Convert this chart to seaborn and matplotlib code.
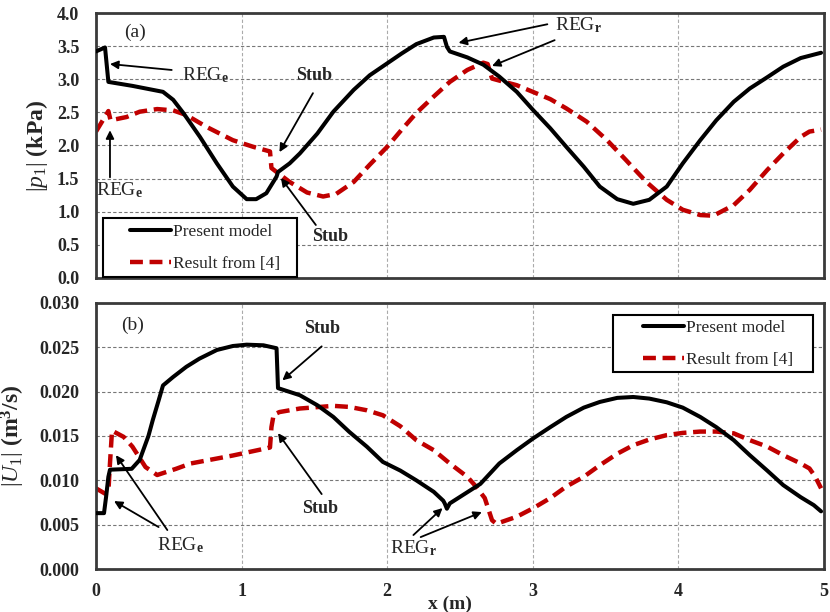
import numpy as np
import pandas as pd
import matplotlib
matplotlib.use("Agg")
import matplotlib.pyplot as plt
import seaborn as sns
from matplotlib.ticker import MultipleLocator, FormatStrFormatter
from matplotlib.patches import Rectangle

# ---------------- data ----------------
p_model_x = [0, 0.062, 0.085, 0.25, 0.46, 0.53, 0.60, 0.714, 0.83, 0.94, 1.035, 1.10, 1.17,
             1.24, 1.25, 1.33, 1.40, 1.52, 1.63, 1.77, 1.88, 2.0, 2.10, 2.20, 2.32, 2.39, 2.41,
             2.43, 2.55, 2.66, 2.77, 2.89, 3.0, 3.12, 3.23, 3.35, 3.46, 3.58, 3.69, 3.80, 3.92,
             4.03, 4.15, 4.26, 4.38, 4.49, 4.61, 4.72, 4.84, 4.98]
p_model_y = [3.42, 3.48, 2.96, 2.90, 2.81, 2.69, 2.49, 2.13, 1.73, 1.38, 1.19, 1.19, 1.28,
             1.53, 1.60, 1.73, 1.88, 2.18, 2.51, 2.84, 3.06, 3.24, 3.39, 3.53, 3.63, 3.64, 3.49,
             3.42, 3.33, 3.22, 3.04, 2.81, 2.54, 2.26, 1.98, 1.68, 1.38, 1.19, 1.12, 1.18, 1.38,
             1.73, 2.08, 2.38, 2.66, 2.86, 3.03, 3.19, 3.32, 3.40]

p_ref_x = [0, 0.085, 0.10, 0.21, 0.30, 0.42, 0.53, 0.62, 0.76, 0.94, 1.08, 1.195, 1.205, 1.24,
           1.33, 1.45, 1.56, 1.65, 1.77, 1.88, 2.0, 2.10, 2.20, 2.32, 2.43, 2.55, 2.66, 2.69,
           2.72, 2.77, 2.89, 3.0, 3.12, 3.23, 3.37, 3.51, 3.64, 3.78, 3.92, 4.03, 4.15, 4.24,
           4.38, 4.49, 4.61, 4.72, 4.84, 4.90, 4.98]
p_ref_y = [2.21, 2.52, 2.38, 2.43, 2.51, 2.55, 2.53, 2.46, 2.28, 2.08, 1.98, 1.91, 1.66, 1.60,
           1.45, 1.29, 1.23, 1.27, 1.45, 1.71, 1.98, 2.24, 2.49, 2.74, 2.96, 3.14, 3.25, 3.23,
           3.01, 2.98, 2.91, 2.81, 2.70, 2.56, 2.36, 2.08, 1.78, 1.45, 1.18, 1.03, 0.95, 0.94,
           1.10, 1.33, 1.63, 1.88, 2.13, 2.21, 2.24]

u_model_x = [0, 0.055, 0.069, 0.085, 0.096, 0.245, 0.30, 0.36, 0.39, 0.43, 0.46, 0.53, 0.62,
             0.71, 0.83, 0.94, 1.035, 1.15, 1.24, 1.25, 1.40, 1.52, 1.63, 1.74, 1.86, 1.97,
             2.09, 2.20, 2.32, 2.385, 2.395, 2.41, 2.43, 2.64, 2.77, 2.89, 3.0, 3.12, 3.23,
             3.35, 3.46, 3.58, 3.69, 3.80, 3.92, 4.03, 4.15, 4.26, 4.38, 4.49, 4.61, 4.72,
             4.84, 4.93, 4.98]
u_model_y = [0.0063, 0.0063, 0.0081, 0.0104, 0.0112, 0.0113, 0.0123, 0.0150, 0.0168, 0.0190,
             0.0207, 0.02166, 0.0228, 0.02372, 0.0247, 0.02515, 0.0253, 0.02523, 0.0249,
             0.0204, 0.0196, 0.01847, 0.01715, 0.01546, 0.0138, 0.01208, 0.0111, 0.0100,
             0.0087, 0.0077, 0.0074, 0.0068, 0.0074, 0.0096, 0.0119, 0.0134, 0.0147, 0.0160,
             0.01715, 0.0182, 0.01884, 0.0193, 0.0194, 0.01922, 0.0188, 0.0182, 0.01715,
             0.0160, 0.01453, 0.01284, 0.0111, 0.00946, 0.0081, 0.0072, 0.0065]

u_ref_x = [0, 0.062, 0.085, 0.096, 0.11, 0.19, 0.25, 0.34, 0.42, 0.55, 0.65, 0.94, 1.195,
           1.205, 1.22, 1.26, 1.40, 1.63, 1.74, 1.86, 1.97, 2.09, 2.20, 2.32, 2.43, 2.55, 2.61,
           2.67, 2.69, 2.72, 2.75, 2.89, 3.0, 3.12, 3.23, 3.35, 3.46, 3.58, 3.69, 3.80, 3.92,
           4.03, 4.15, 4.26, 4.38, 4.49, 4.61, 4.72, 4.84, 4.90, 4.94, 4.98]
u_ref_y = [0.0091, 0.0085, 0.0087, 0.0119, 0.0156, 0.0149, 0.0138, 0.0115, 0.0106, 0.0113,
           0.0119, 0.0128, 0.0137, 0.0160, 0.0174, 0.0177, 0.0181, 0.0184, 0.01828, 0.0179,
           0.01734, 0.0161, 0.01453, 0.0134, 0.0119, 0.0104, 0.0093, 0.0080, 0.0070, 0.0055,
           0.0051, 0.0059, 0.00683, 0.0080, 0.0093, 0.0104, 0.0117, 0.0130, 0.01396, 0.0146,
           0.0151, 0.01535, 0.0155, 0.0155, 0.0153, 0.01453, 0.0138, 0.01284, 0.0119, 0.01134,
           0.0104, 0.0091]

series_names = ["Present model", "Result from [4]"]
x_ticks = [0, 1, 2, 3, 4, 5]

# ---------------- style ----------------
sns.set_style("white")
plt.rcParams["font.family"] = ["Liberation Serif", "DejaVu Serif"]
plt.rcParams["mathtext.fontset"] = "custom"
plt.rcParams["mathtext.rm"] = "Liberation Serif"
plt.rcParams["mathtext.it"] = "Liberation Serif:italic"
plt.rcParams["mathtext.bf"] = "Liberation Serif:bold"

BLACK = "#000000"
RED = "#C00000"
SPINE = "#3a3a3a"

W, H = 830, 612
fig = plt.figure(figsize=(8.3, 6.12), dpi=100)
ax1 = fig.add_axes([96 / W, 1 - 278 / H, 728 / W, 265 / H])
ax2 = fig.add_axes([96 / W, 1 - 569 / H, 728 / W, 266 / H])


def draw(ax, mx, my, rx, ry):
    dfm = pd.DataFrame({"x": mx, "y": my})
    dfr = pd.DataFrame({"x": rx, "y": ry})
    sns.lineplot(data=dfm, x="x", y="y", ax=ax, color=BLACK, lw=2.9, sort=False,
                 estimator=None, label=series_names[0], zorder=3)
    sns.lineplot(data=dfr, x="x", y="y", ax=ax, color=RED, lw=3.2, sort=False,
                 estimator=None, label=series_names[1], zorder=2)
    ln = ax.get_lines()[-1]
    ln.set_dashes((2.9, 1.5))
    for l in ax.get_lines():
        l.set_solid_joinstyle("round")
        l.set_dash_joinstyle("round")
        l.set_solid_capstyle("round")
    ax.set_xlim(0, 5)
    ax.xaxis.set_major_locator(MultipleLocator(1))
    ax.xaxis.set_minor_locator(MultipleLocator(0.2))
    ax.grid(True, which="major", axis="y", color="#777777", ls=(0, (3, 2)), lw=0.8)
    ax.grid(True, which="major", axis="x", color="#aaaaaa", ls=(0, (3, 2)), lw=0.8)
    for s in ax.spines.values():
        s.set_color(SPINE)
        s.set_linewidth(2)
    ax.tick_params(axis="both", which="major", direction="out", length=4, width=0.8,
                   color="#888888", pad=8)
    ax.tick_params(axis="x", which="minor", direction="out", length=4, width=0.8, color="#888888")
    ax.set_xlabel("")
    ax.set_ylabel("")


draw(ax1, p_model_x, p_model_y, p_ref_x, p_ref_y)
draw(ax2, u_model_x, u_model_y, u_ref_x, u_ref_y)

ax1.set_ylim(0, 4)
ax1.yaxis.set_major_locator(MultipleLocator(0.5))
ax1.yaxis.set_major_formatter(FormatStrFormatter("%.1f"))
ax1.tick_params(axis="x", labelbottom=False)

ax2.set_ylim(0, 0.03)
ax2.yaxis.set_major_locator(MultipleLocator(0.005))
ax2.yaxis.set_major_formatter(FormatStrFormatter("%.3f"))
ax2.set_xticks(x_ticks)
ax2.set_xticklabels([str(t) for t in x_ticks])
ax2.tick_params(axis="x", which="major", pad=6)

for ax in (ax1, ax2):
    for lab in ax.get_xticklabels() + ax.get_yticklabels():
        lab.set_fontweight("bold")
        lab.set_fontsize(13)

ax1.set_ylabel(r"$|\mathit{p}_{\mathit{1}}|$ $\mathbf{(kPa)}$", fontsize=17)
ax2.set_ylabel(r"$|\mathit{U}_{\mathit{1}}|$ $\mathbf{(m^3/s)}$", fontsize=17)
ax2.set_xlabel("x (m)", fontsize=14, fontweight="bold")
ax1.yaxis.set_label_coords(-0.063, 0.5)
ax2.yaxis.set_label_coords(-0.095, 0.5)
ax2.xaxis.set_label_coords(0.486, -0.1)


def legend_box(ax, x0, y0, x1, y1, anchor_px):
    # frame placed in figure pixel coordinates of the reference layout
    rect = Rectangle((x0 / W, 1 - y1 / H), (x1 - x0) / W, (y1 - y0) / H,
                     transform=fig.transFigure, fill=True, facecolor="white",
                     edgecolor="black", lw=1.5, zorder=5, clip_on=False)
    ax.add_patch(rect)
    lg = ax.legend(loc="center left",
                   bbox_to_anchor=(anchor_px[0] / W, 1 - anchor_px[1] / H),
                   bbox_transform=fig.transFigure, frameon=False, handlelength=2.35,
                   handletextpad=0.1, labelspacing=0.95, borderpad=0, borderaxespad=0,
                   fontsize=12.5)
    lg.set_zorder(6)
    return lg


legend_box(ax1, 103, 218, 297, 277, (130, 248))
legend_box(ax2, 613, 315, 813, 372, (643, 344))

arrow = dict(arrowstyle="-|>", color="black", lw=1.3, mutation_scale=12, shrinkA=0, shrinkB=0)
REGe = r"REG$_{\mathbf{e}}$"
REGr = r"REG$_{\mathbf{r}}$"
tfs = 14
sfs = 13

# top panel annotations
ax1.text(0.27, 3.71, "(a)", fontsize=14, ha="center", va="center")
ax1.text(0.59, 3.06, REGe, fontsize=tfs, ha="left", va="center")
ax1.annotate("", xy=(0.096, 3.23), xytext=(0.52, 3.14), arrowprops=arrow)
ax1.text(1.50, 3.06, "Stub", fontsize=sfs, fontweight="bold", ha="center", va="center")
ax1.annotate("", xy=(1.26, 1.90), xytext=(1.49, 2.79), arrowprops=arrow)
ax1.text(0.16, 1.33, REGe, fontsize=tfs, ha="center", va="center")
ax1.annotate("", xy=(0.096, 2.23), xytext=(0.096, 1.52), arrowprops=arrow)
ax1.text(1.61, 0.62, "Stub", fontsize=sfs, fontweight="bold", ha="center", va="center")
ax1.annotate("", xy=(1.27, 1.51), xytext=(1.51, 0.80), arrowprops=arrow)
ax1.text(3.15, 3.82, REGr, fontsize=tfs, ha="left", va="center")
ax1.annotate("", xy=(2.49, 3.55), xytext=(3.10, 3.83), arrowprops=arrow)
ax1.annotate("", xy=(2.72, 3.20), xytext=(3.15, 3.59), arrowprops=arrow)

# bottom panel annotations
ax2.text(0.25, 0.02748, "(b)", fontsize=14, ha="center", va="center")
ax2.text(1.55, 0.02714, "Stub", fontsize=sfs, fontweight="bold", ha="center", va="center")
ax2.annotate("", xy=(1.28, 0.02128), xytext=(1.55, 0.02511), arrowprops=arrow)
ax2.text(1.54, 0.00687, "Stub", fontsize=sfs, fontweight="bold", ha="center", va="center")
ax2.annotate("", xy=(1.25, 0.01532), xytext=(1.55, 0.00845), arrowprops=arrow)
ax2.text(0.58, 0.0027, REGe, fontsize=tfs, ha="center", va="center")
ax2.annotate("", xy=(0.124, 0.00766), xytext=(0.43, 0.00473), arrowprops=arrow)
ax2.annotate("", xy=(0.137, 0.01284), xytext=(0.49, 0.00439), arrowprops=arrow)
ax2.text(2.18, 0.00236, REGr, fontsize=tfs, ha="center", va="center")
ax2.annotate("", xy=(2.38, 0.00687), xytext=(2.18, 0.00383), arrowprops=arrow)
ax2.annotate("", xy=(2.65, 0.00642), xytext=(2.23, 0.0036), arrowprops=arrow)

fig.savefig("out.png", dpi=100)
